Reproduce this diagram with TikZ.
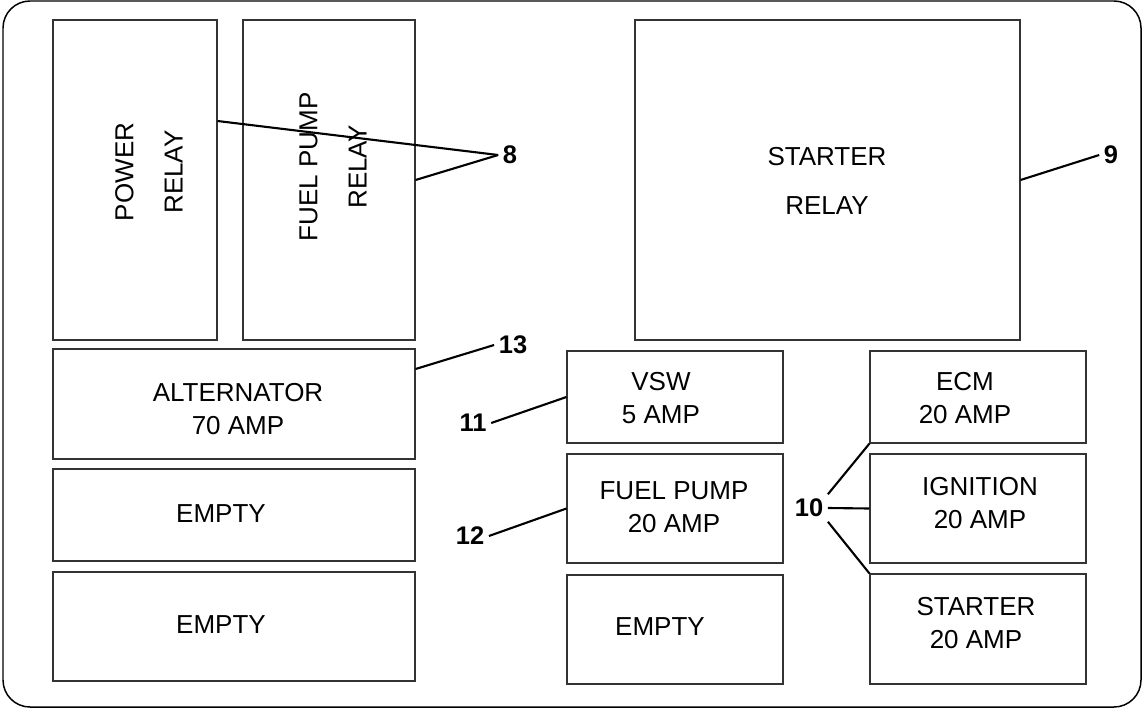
\documentclass[tikz,border=0pt]{standalone}
\usepackage{fontspec}
\setmainfont{Liberation Sans}

\begin{document}
\begin{tikzpicture}[
    x=0.02cm, y=-0.02cm,
    slot/.style={draw=black!80, line width=0.65pt, inner sep=0pt},
    txt/.style={align=center, inner sep=0pt, font=\fontsize{14.8}{19}\selectfont},
    rtxt/.style={txt, font=\fontsize{14.8}{28}\selectfont},
    callout/.style={font=\fontsize{14.5}{14.5}\selectfont\bfseries, inner sep=2.5pt},
    lead/.style={draw=black, line width=1.2pt},
  ]

  \useasboundingbox (0,0) rectangle (1143,710);

  % ---- housing
  \draw[line width=0.85pt, rounded corners=0.54cm] (3,1) rectangle (1141,707);

  % ---- relays
  \node[slot, minimum width=3.28cm, minimum height=6.4cm] (prelay) at (135,180) {};
  \node[slot, minimum width=3.44cm, minimum height=6.4cm] (frelay) at (329,180) {};
  \node[slot, minimum width=7.7cm, minimum height=6.4cm] (srelay) at (827.5,180) {};

  \node[rtxt, rotate=90] (prelay-t) at (149,172) {POWER\\RELAY};
  \node[rtxt, rotate=90] (frelay-t) at (333,167) {FUEL PUMP\\RELAY};
  \node[rtxt] (srelay-t) at (827,181) {STARTER\\RELAY};

  % ---- fuse slots, one column at a time
  \foreach \n/\y/\h in {alt/404/2.2, lempty/515/1.84, lempty2/626.5/2.18}
    \node[slot, minimum width=7.24cm, minimum height=\h cm] (\n) at (234,\y) {};
  \foreach \n/\y/\h in {vsw/397/1.84, ffuse/508.5/2.18, cempty/629.5/2.18}
    \node[slot, minimum width=4.32cm, minimum height=\h cm] (\n) at (675,\y) {};
  \foreach \n/\y/\h in {ecm/397/1.84, ign/508.5/2.18, sfuse/629/2.2}
    \node[slot, minimum width=4.32cm, minimum height=\h cm] (\n) at (978,\y) {};

  % ---- what is printed in each slot
  \foreach \n/\x/\y/\t in {alt/238/409/{ALTERNATOR\\70 AMP}, lempty/221/514/{EMPTY},
      lempty2/221/625/{EMPTY}, vsw/661/398/{VSW\\5 AMP}, ffuse/674/507/{FUEL PUMP\\20 AMP},
      cempty/660/627/{EMPTY}, ecm/965/398/{ECM\\20 AMP}, ign/980/503/{IGNITION\\20 AMP},
      sfuse/976/623/{STARTER\\20 AMP}}
    \node[txt] (\n-t) at (\x,\y) {\t};

  % ---- callout numbers
  \node[callout] (n8) at (510,155) {8};
  \node[callout] (n9) at (1111,155) {9};
  \node[callout] (n10) at (809,508) {10};
  \node[callout] (n11) at (473,423) {11};
  \node[callout] (n12) at (470,536) {12};
  \node[callout] (n13) at (513,345) {13};

  % ---- leader lines
  \draw[lead] (n8.west) -- ([yshift=1.18cm]prelay.east);
  \draw[lead] (n8.west) -- (frelay.east);
  \draw[lead] (n9.west) -- (srelay.east);
  \draw[lead] (n13.west) -- ([yshift=0.7cm]alt.east);
  \draw[lead] (n11.east) -- (vsw.west);
  \draw[lead] (n12.east) -- (ffuse.west);
  \draw[lead] (n10.north east) -- (ecm.south west);
  \draw[lead] (n10.east) -- (ign.west);
  \draw[lead] (n10.south east) -- (sfuse.north west);

\end{tikzpicture}
\end{document}
